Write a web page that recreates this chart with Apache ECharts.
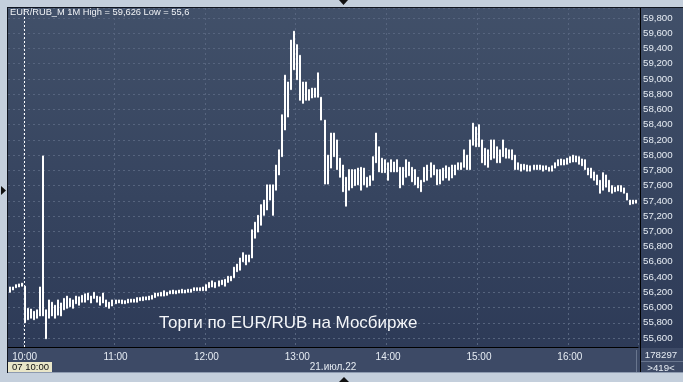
<!DOCTYPE html>
<html>
<head>
<meta charset="utf-8">
<script src="https://cdn.jsdelivr.net/npm/echarts@6/dist/echarts.min.js"></script>
<style>
html,body{margin:0;padding:0;background:#c4cfdc;}
#c{width:683px;height:382px;}
</style>
</head>
<body>
<div id="c"></div>
<script>
// 2-minute bars from 09:50 to 16:44 (EUR/RUB_M, 21.07.22)
const startTime = '09:50';
const barMinutes = 2;
const lows = [
56200,56230,56260,56270,56280,55800,55840,55860,55840,55860,
55890,55890,55590,55860,55890,55860,55900,55890,55970,55990,
56010,55990,56050,56030,56070,56070,56100,56060,56120,56070,
56030,56060,56010,55990,56020,56050,56060,56050,56050,56060,
56070,56070,56070,56090,56090,56100,56100,56110,56130,56150,
56150,56150,56160,56180,56180,56180,56190,56190,56190,56200,
56200,56220,56220,56220,56220,56220,56260,56270,56260,56280,
56300,56280,56330,56350,56390,56470,56490,56600,56560,56600,
56650,56910,56990,57080,57210,57280,57410,57210,57540,57740,
57980,58330,58500,58860,59120,58990,58720,58680,58720,58720,
58750,58760,58760,58460,57620,57620,57830,57980,57810,57710,
57520,57330,57540,57570,57600,57610,57540,57610,57580,57600,
57670,57900,57780,57770,57770,57670,57780,57780,57780,57570,
57610,57710,57730,57650,57610,57570,57520,57650,57670,57710,
57740,57610,57620,57670,57700,57670,57700,57740,57810,57810,
57840,57810,57810,58130,58110,58110,57900,57870,57840,57940,
57960,57900,57900,57980,57960,57960,57940,57810,57810,57790,
57810,57790,57790,57810,57810,57810,57790,57810,57790,57790,
57830,57860,57870,57870,57880,57900,57910,57910,57880,57860,
57810,57740,57700,57670,57610,57500,57540,57580,57520,57500,
57520,57530,57520,57500,57410,57350,57360,57370
];
const highs = [
56270,56270,56300,56310,56320,56280,55990,55980,55950,55970,
56270,57990,55970,56100,56070,56030,56100,56060,56120,56150,
56120,56100,56150,56140,56160,56180,56190,56150,56200,56150,
56140,56190,56100,56070,56100,56100,56100,56100,56090,56110,
56110,56110,56130,56130,56140,56140,56150,56160,56190,56190,
56200,56220,56200,56220,56230,56220,56230,56240,56230,56240,
56240,56260,56260,56260,56270,56300,56330,56350,56330,56350,
56360,56370,56410,56410,56530,56570,56650,56720,56690,56690,
57020,57120,57210,57350,57410,57610,57610,57610,57870,58070,
58530,59050,58960,59510,59626,59450,59310,58960,58960,58860,
58880,58880,59080,58760,58460,58000,58290,58290,58200,57960,
57870,57710,57810,57810,57810,57830,57840,57830,57710,57730,
57980,58290,58110,57960,57940,57900,57940,57910,57940,57840,
57840,57940,57910,57840,57810,57710,57670,57840,57870,57900,
57870,57810,57810,57830,57860,57840,57870,57870,57900,57900,
58070,58000,58200,58420,58370,58400,58200,58090,58070,58200,
58200,58110,58070,58200,58090,58070,58070,58000,57900,57880,
57880,57870,57860,57870,57870,57870,57860,57860,57840,57860,
57900,57940,57950,57940,57960,57980,58000,57990,57980,57950,
57940,57830,57830,57780,57740,57670,57770,57740,57670,57600,
57580,57600,57600,57570,57500,57410,57410,57410
];
const lastPrice = 57388;
const dayStartLabel = '10:00';
const headerText = 'EUR/RUB_M 1M High = 59,626 Low = 55,6';
const titleText = 'Торги по EUR/RUB на Мосбирже';
const dateText = '21.июл.22';
const cursorText = '07 10:00';
const volumeText = '178297';
const barsText = '>419<';
const priceStep = 200;

// category labels
const times = [];
{
  const [h0, m0] = startTime.split(':').map(Number);
  for (let i = 0; i < lows.length; i++) {
    const t = h0 * 60 + m0 + i * barMinutes;
    const hh = String(Math.floor(t / 60)).padStart(2, '0');
    const mm = String(t % 60).padStart(2, '0');
    times.push(hh + ':' + mm);
  }
}
const candles = lows.map((l, i) => [l, highs[i], l, highs[i]]);
const isHour = (i) => times[i] && times[i].endsWith(':00');

const chart = echarts.init(document.getElementById('c'), null, {renderer: 'canvas'});
const fontFam = '"Liberation Sans", Arial, sans-serif';
chart.setOption({
  animation: false,
  backgroundColor: '#c4cfdc',
  textStyle: {fontFamily: fontFam},
  title: {
    text: titleText, left: 154, top: 310,
    textStyle: {color: '#f4f6f9', fontSize: 17, fontWeight: 'normal', fontFamily: fontFam}
  },
  grid: {left: 8, right: 45, top: 8, bottom: 35, containLabel: false},
  xAxis: {
    type: 'category', data: times, boundaryGap: true,
    axisLine: {show: true, lineStyle: {color: '#000', width: 1}},
    axisTick: {show: false},
    axisLabel: {interval: (i) => isHour(i), color: '#e6ecf3', fontSize: 10, margin: 5, fontFamily: fontFam},
    splitLine: {show: true, interval: (i) => isHour(i), lineStyle: {color: '#56647e', type: [2, 3], width: 1}}
  },
  yAxis: {
    type: 'value', position: 'right', min: 55482, max: 59931, splitNumber: 22, offset: 2,
    showMinLabel: false, showMaxLabel: false,
    axisLine: {show: true, lineStyle: {color: '#000', width: 1}},
    axisTick: {show: false},
    axisLabel: {
      color: '#e6ecf3', fontSize: 9.7, margin: 3, fontFamily: fontFam,
      formatter: (v) => (Math.round(v) % priceStep === 0 ? Math.round(v).toLocaleString('en-US') : '')
    },
    splitLine: {show: true, lineStyle: {color: '#56647e', type: [2, 3], width: 1}}
  },
  series: [{
    type: 'candlestick', data: candles, barWidth: 1.5,
    itemStyle: {color: '#ffffff', color0: '#ffffff', borderColor: '#ffffff', borderColor0: '#ffffff', borderWidth: 1},
    markLine: {
      silent: true, symbol: 'none', animation: false,
      data: [
        {xAxis: dayStartLabel, lineStyle: {color: '#ffffff', type: [2, 2], width: 1}, label: {show: false}},
        {yAxis: lastPrice, lineStyle: {opacity: 0}, label: {
          show: true, position: 'end', distance: 5,
          formatter: () => lastPrice.toLocaleString('en-US'),
          backgroundColor: '#cdd0d4', color: '#111', padding: [2, 3, 1, 3], fontSize: 9.7, fontFamily: fontFam
        }}
      ]
    }
  }],
  graphic: [
    {type: 'rect', z: -20, shape: {x: 8, y: 8, width: 675, height: 364},
      style: {fill: new echarts.graphic.LinearGradient(0, 0, 0, 1, [{offset: 0, color: '#415069'}, {offset: 1, color: '#2c3956'}])}},
    {type: 'rect', z: -19, shape: {x: 8, y: 348, width: 675, height: 24}, style: {fill: '#3d4a66'}},
    {type: 'line', z: 5, shape: {x1: 7.5, y1: 7, x2: 7.5, y2: 373}, style: {stroke: '#10151f', lineWidth: 1}},
    {type: 'line', z: 5, shape: {x1: 7, y1: 7.5, x2: 683, y2: 7.5}, style: {stroke: '#10151f', lineWidth: 1}},
    {type: 'line', z: 5, shape: {x1: 8, y1: 372.5, x2: 683, y2: 372.5}, style: {stroke: '#8e9bb0', lineWidth: 1}},
    {type: 'line', z: 5, shape: {x1: 640.5, y1: 8, x2: 640.5, y2: 372}, style: {stroke: '#000', lineWidth: 1}},
    {type: 'line', z: 5, shape: {x1: 636.5, y1: 350, x2: 636.5, y2: 372}, style: {stroke: '#69768e', lineWidth: 1}},
    {type: 'line', z: 5, shape: {x1: 641, y1: 361.5, x2: 683, y2: 361.5}, style: {stroke: '#69768e', lineWidth: 1}},
    {type: 'text', z: 6, x: 10, y: 12, style: {text: headerText, fill: '#f2f4f7', font: '9.3px ' + fontFam, textVerticalAlign: 'middle'}},
    {type: 'text', z: 6, x: 333, y: 367, style: {text: dateText, fill: '#e6ecf3', font: '10px ' + fontFam, textAlign: 'center', textVerticalAlign: 'middle'}},
    {type: 'rect', z: 6, shape: {x: 8, y: 362, width: 44, height: 10}, style: {fill: '#e9e6c9'}},
    {type: 'text', z: 7, x: 12, y: 367.5, style: {text: cursorText, fill: '#111', font: '9.5px ' + fontFam, textVerticalAlign: 'middle'}},
    {type: 'text', z: 6, x: 661, y: 355, style: {text: volumeText, fill: '#e6ecf3', font: '9.7px ' + fontFam, textAlign: 'center', textVerticalAlign: 'middle'}},
    {type: 'text', z: 6, x: 661, y: 368, style: {text: barsText, fill: '#e6ecf3', font: '9.7px ' + fontFam, textAlign: 'center', textVerticalAlign: 'middle'}},
    {type: 'polygon', z: 6, shape: {points: [[339, 0], [348, 0], [343.5, 5]]}, style: {fill: '#111'}},
    {type: 'polygon', z: 6, shape: {points: [[339, 382], [349, 382], [344, 377]]}, style: {fill: '#111'}},
    {type: 'polygon', z: 6, shape: {points: [[1, 186], [1, 195], [6, 190.5]]}, style: {fill: '#111'}}
  ]
});
</script>
</body>
</html>
